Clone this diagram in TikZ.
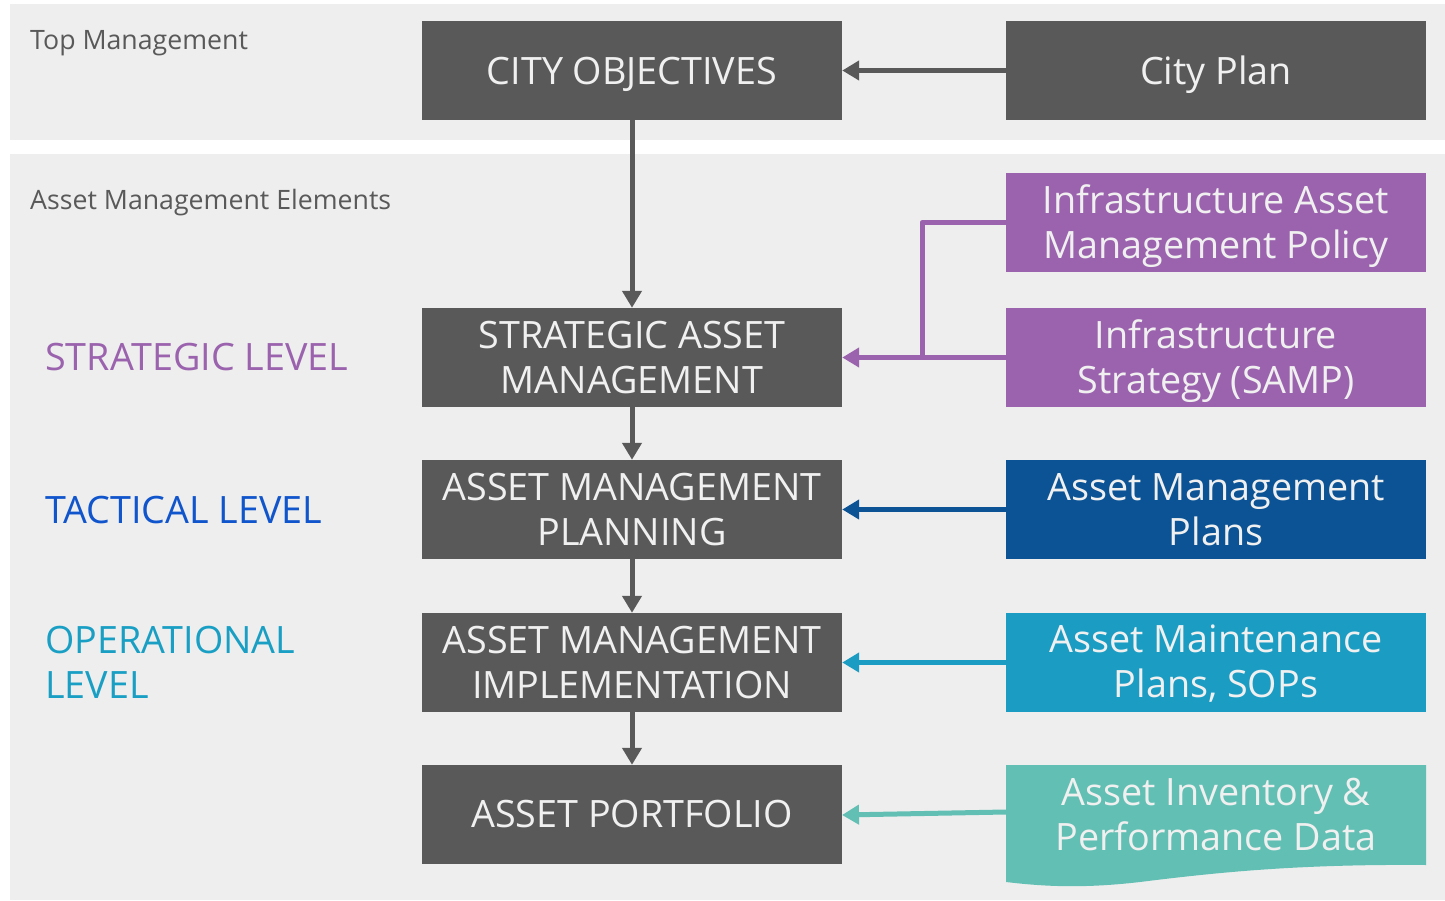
\documentclass[tikz,border=0pt]{standalone}
\usepackage{fontspec}
\setmainfont{Open Sans}
\usetikzlibrary{arrows.meta}
\definecolor{panel}{HTML}{EEEEEE}
\definecolor{boxgray}{HTML}{595959}
\definecolor{boxtext}{HTML}{F0F0F0}
\definecolor{labgray}{HTML}{595959}
\definecolor{purp}{HTML}{9B63AE}
\definecolor{dblue}{HTML}{0B5394}
\definecolor{cyanb}{HTML}{1B9DC3}
\definecolor{tealb}{HTML}{62BFB3}
\definecolor{tacblue}{HTML}{1155CC}
\definecolor{opcyan}{HTML}{1A9FC4}
\newcommand\lowr[1]{\raisebox{-4pt}[\height][\depth]{#1}}
\tikzset{
  box/.style={fill=#1, text=boxtext, minimum width=420pt, minimum height=99pt,
    inner sep=0pt, align=center, font=\fontsize{37.7}{45}\selectfont},
  box/.default=boxgray,
  conn/.style={line width=5pt, draw=#1, -{Triangle[length=17pt,width=19pt]}},
  panellab/.style={anchor=west, text=labgray, inner sep=0pt, font=\fontsize{26.7}{32}\selectfont},
  levellab/.style={anchor=west, inner sep=0pt, align=left, font=\fontsize{37.7}{45}\selectfont}
}
\begin{document}
\begin{tikzpicture}[x=1pt,y=-1pt]
\useasboundingbox (0,0) rectangle (1445,901);
\fill[white] (0,0) rectangle (1445,901);
\fill[panel] (10,4) rectangle (1445,140);
\fill[panel] (10,154) rectangle (1445,900);

\node[panellab] (toplab) at (30,43.5) {Top Management};
\node[panellab] (amelab) at (30,202.5) {Asset Management Elements};

\node[levellab, text=purp] (strlab) at (45,357) {STRATEGIC LEVEL};
\node[levellab, text=tacblue] (taclab) at (45,510) {TACTICAL LEVEL};
\node[levellab, text=opcyan] (oplab) at (45,662) {OPERATIONAL\\LEVEL};

\node[box] (cityobj) at (632,70.5) {\lowr{CITY OBJECTIVES}};
\node[box] (cityplan) at (1216,70.5) {\lowr{City Plan}};
\node[box] (sam) at (632,357.5) {STRATEGIC ASSET\\MANAGEMENT};
\node[box] (amp) at (632,509.5) {ASSET MANAGEMENT\\PLANNING};
\node[box] (ami) at (632,662.5) {ASSET MANAGEMENT\\IMPLEMENTATION};
\node[box] (port) at (632,814.5) {ASSET PORTFOLIO};

\node[box=purp] (policy) at (1216,222.5) {\lowr{Infrastructure Asset}\\\lowr{Management Policy}};
\node[box=purp] (samp) at (1216,357.5) {\lowr{Infrastructure}\\\lowr{Strategy (SAMP)}};
\node[box=dblue] (plans) at (1216,509.5) {Asset Management\\Plans};
\node[box=cyanb] (maint) at (1216,662.5) {\raisebox{-1.5pt}[\height][\depth]{Asset Maintenance}\\\raisebox{-1.5pt}[\height][\depth]{Plans, SOPs}};

\fill[tealb] (1006,765) -- (1426,765) -- (1426,865)
  .. controls (1300,864) and (1220,872) .. (1140,882)
  .. controls (1080,889) and (1040,886) .. (1006,882) -- cycle;
\node[box=none, fill=none, minimum height=99pt] (inv) at (1216,815) {Asset Inventory \&\\Performance Data};
\coordinate (invw) at (1006,812);
\coordinate (portin) at (842,815);

\draw[conn=boxgray] (cityplan) -- (cityobj);
\draw[conn=boxgray] (cityobj) -- (sam);
\draw[conn=boxgray] (sam) -- (amp);
\draw[conn=boxgray] (amp) -- (ami);
\draw[conn=boxgray] (ami) -- (port);

\coordinate (pj) at (922,357.5);
\draw[line width=5pt, draw=purp, line join=round] (policy.west) -| (pj);
\draw[conn=purp] (samp) -- (sam);
\draw[conn=dblue] (plans) -- (amp);
\draw[conn=cyanb] (maint) -- (ami);
\draw[conn=tealb] (invw) -- (portin);
\end{tikzpicture}
\end{document}
